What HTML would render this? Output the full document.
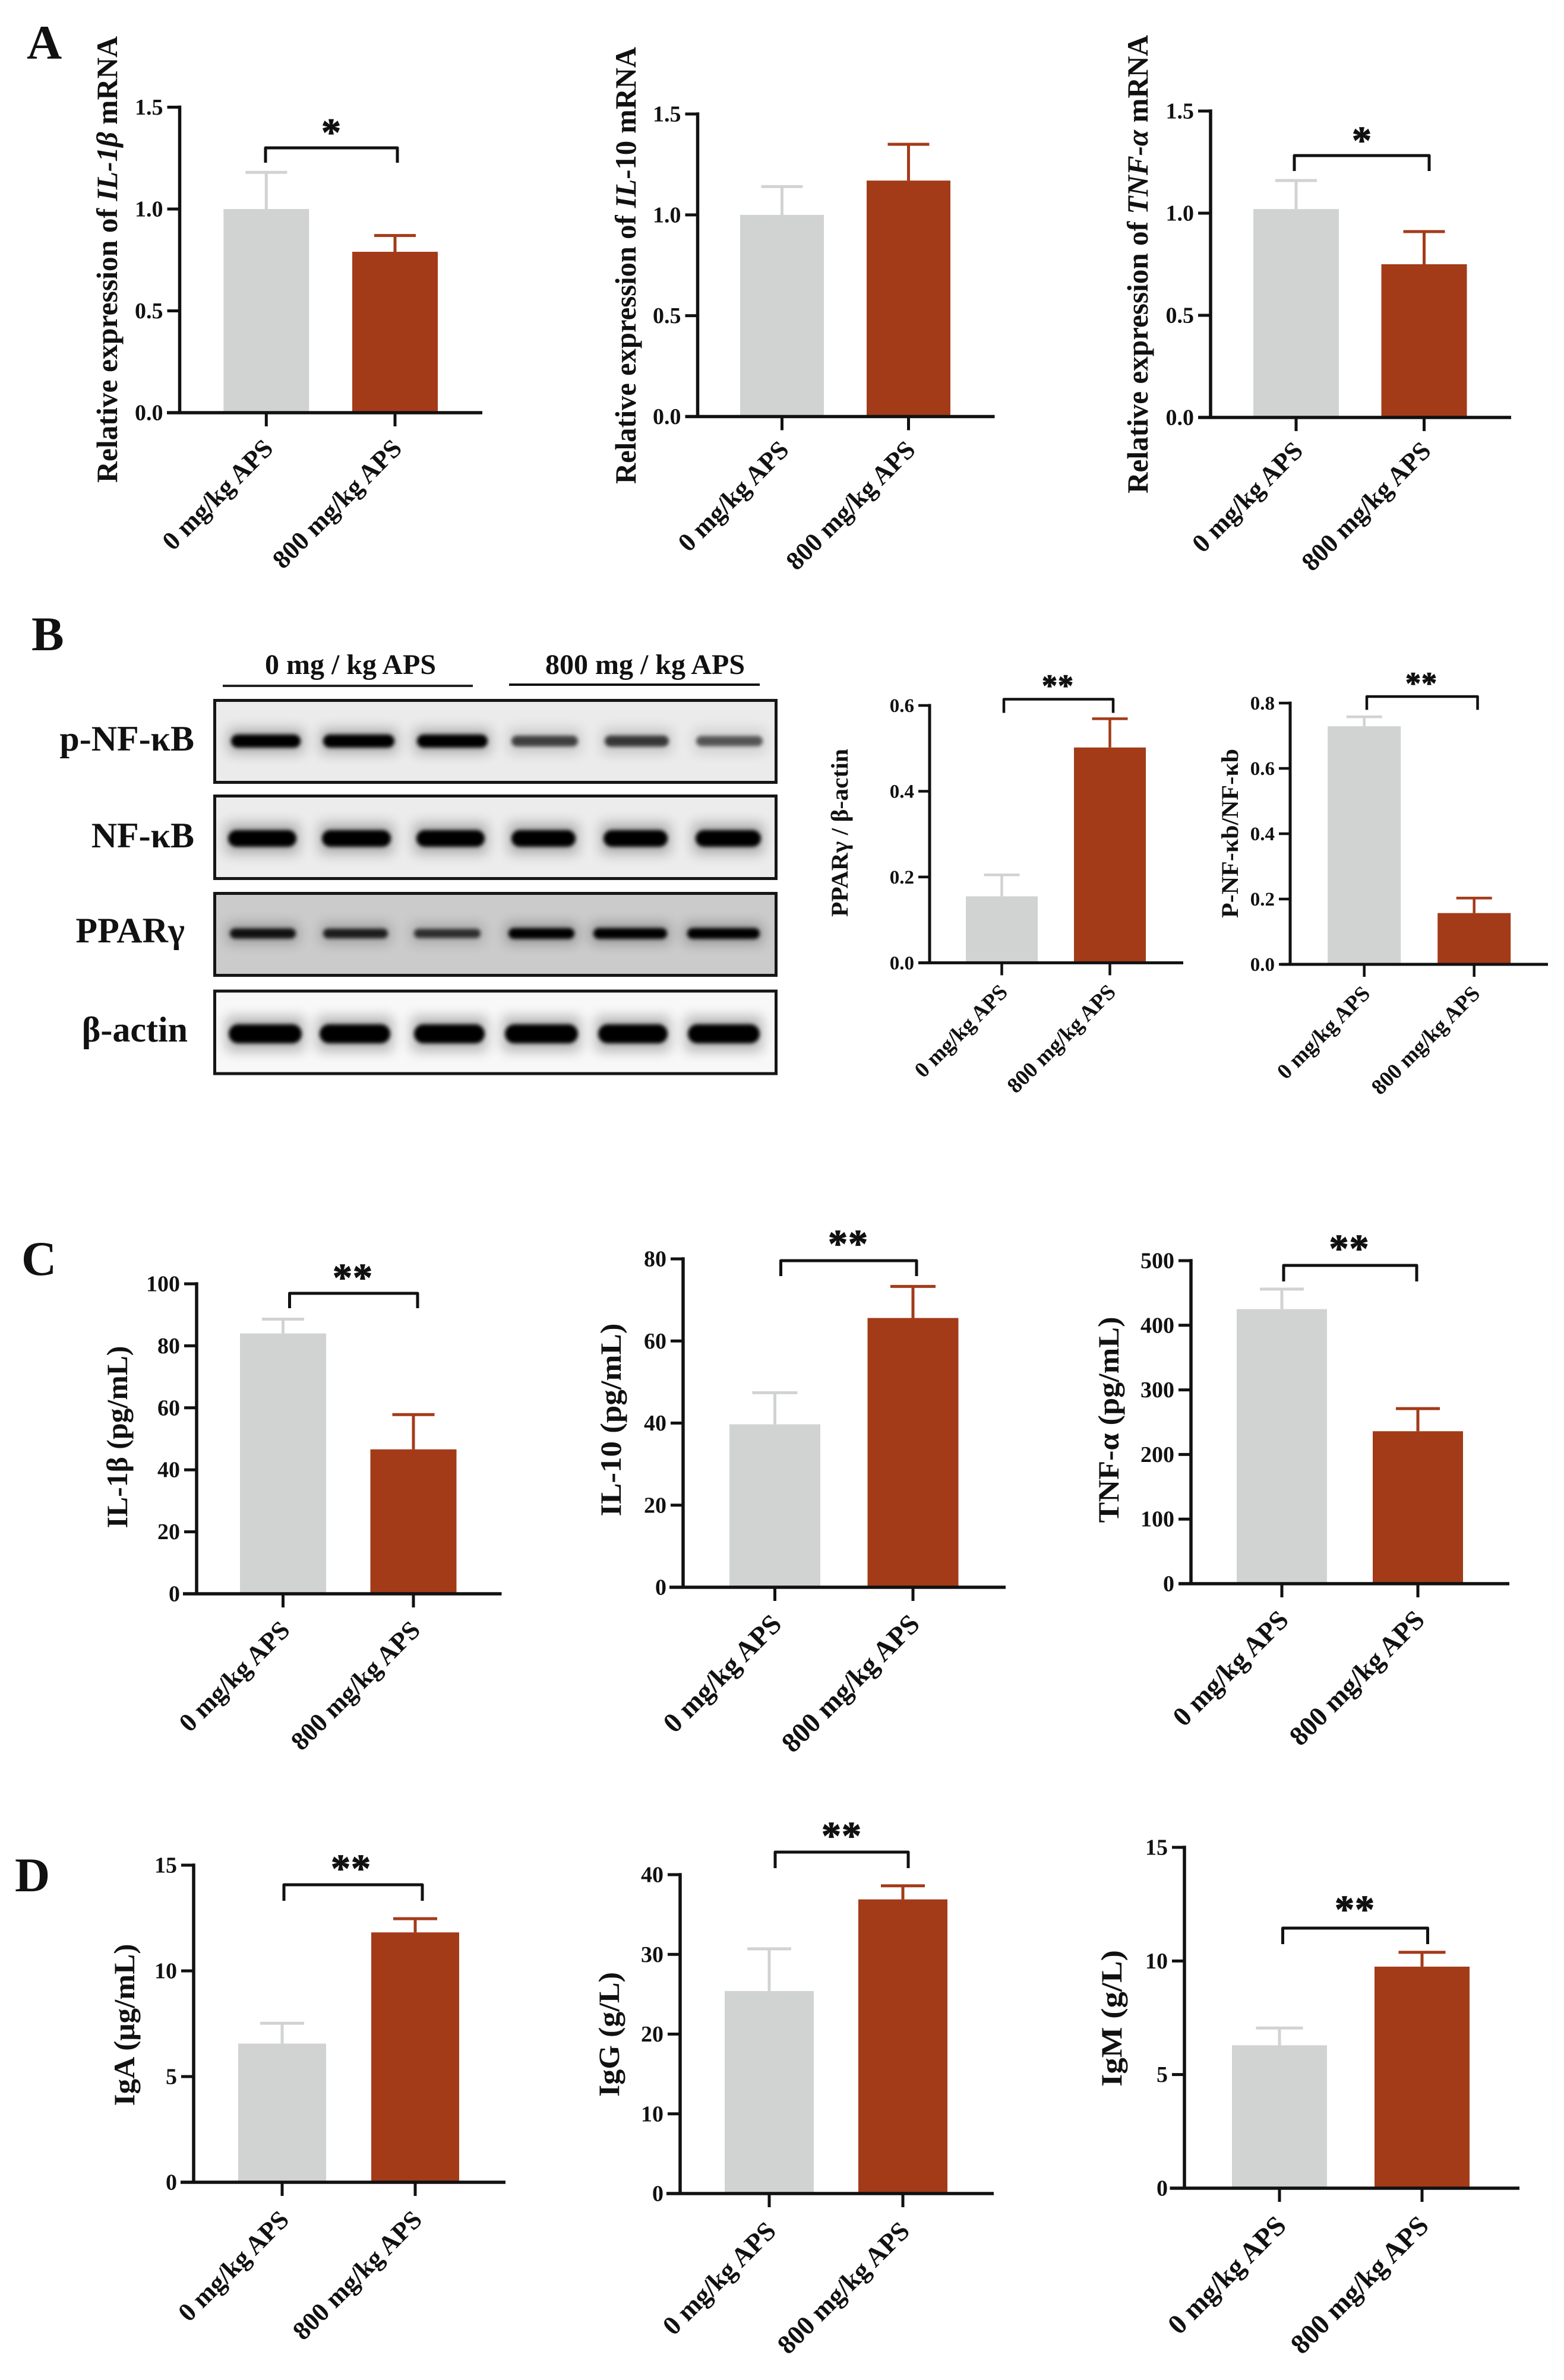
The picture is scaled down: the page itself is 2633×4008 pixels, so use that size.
<!DOCTYPE html>
<html lang="en">
<head>
<meta charset="utf-8">
<title>APS bar charts and western blots</title>
<style>
html,body{margin:0;padding:0;background:#fff;}
svg{display:block;font-family:"Liberation Serif","Noto Serif CJK SC",serif;font-weight:bold;}
</style>
</head>
<body>
<svg id="figure" xmlns="http://www.w3.org/2000/svg" width="2633" height="4008" viewBox="0 0 2633 4008">
<defs>
<filter id="blurBand" x="-20%" y="-100%" width="140%" height="300%"><feGaussianBlur stdDeviation="3.2"/></filter>
<filter id="blurHalo" x="-20%" y="-150%" width="140%" height="400%"><feGaussianBlur stdDeviation="11"/></filter>
</defs>
<rect width="2633" height="4008" fill="#fff"/>
<text x="45" y="99" font-size="82" fill="#111">A</text>
<text x="53" y="1095" font-size="82" fill="#111">B</text>
<text x="36" y="2147" font-size="82" fill="#111">C</text>
<text x="25" y="3185" font-size="82" fill="#111">D</text>
<text x="590" y="1135" font-size="48" text-anchor="middle" fill="#111">0 mg / kg APS</text>
<text x="1086" y="1135" font-size="48" text-anchor="middle" fill="#111">800 mg / kg APS</text>
<line x1="375" x2="796" y1="1155" y2="1155" stroke="#222" stroke-width="4"/>
<line x1="857" x2="1279" y1="1153" y2="1153" stroke="#111" stroke-width="4"/>
<text x="327" y="1264" font-size="60" text-anchor="end" fill="#111">p-NF-κB</text>
<text x="327" y="1427" font-size="60" text-anchor="end" fill="#111">NF-κB</text>
<text x="311" y="1587" font-size="60" text-anchor="end" fill="#111">PPARγ</text>
<text x="316" y="1754" font-size="60" text-anchor="end" fill="#111">β-actin</text>
<g id="blots"></g>
<g id="charts"></g>
</svg>
<script>
// ---- chart data ----
const categories = ['0 mg/kg APS', '800 mg/kg APS'];

const ticksMrna = ['0.0', '0.5', '1.0', '1.5'];
const il1bMrnaMeans = [1.0, 0.79];
const il1bMrnaErrors = [0.18, 0.08];
const il10MrnaMeans = [1.0, 1.17];
const il10MrnaErrors = [0.14, 0.18];
const tnfMrnaMeans = [1.02, 0.75];
const tnfMrnaErrors = [0.14, 0.16];

const ticksPpar = ['0.0', '0.2', '0.4', '0.6'];
const pparMeans = [0.155, 0.502];
const pparErrors = [0.05, 0.067];
const ticksPnf = ['0.0', '0.2', '0.4', '0.6', '0.8'];
const pnfMeans = [0.729, 0.157];
const pnfErrors = [0.029, 0.046];

const ticksIl1b = ['0', '20', '40', '60', '80', '100'];
const il1bMeans = [84, 46.6];
const il1bErrors = [4.6, 11.2];
const ticksIl10 = ['0', '20', '40', '60', '80'];
const il10Means = [39.7, 65.6];
const il10Errors = [7.7, 7.7];
const ticksTnf = ['0', '100', '200', '300', '400', '500'];
const tnfMeans = [425, 236];
const tnfErrors = [31, 35];

const ticksIga = ['0', '5', '10', '15'];
const igaMeans = [6.56, 11.82];
const igaErrors = [0.96, 0.65];
const ticksIgg = ['0', '10', '20', '30', '40'];
const iggMeans = [25.4, 36.9];
const iggErrors = [5.3, 1.7];
const ticksIgm = ['0', '5', '10', '15'];
const igmMeans = [6.29, 9.75];
const igmErrors = [0.76, 0.63];

// band densities for the blots (relative darkness per lane)
const pNfkbDensity = [1, 1, 1, 0.55, 0.6, 0.42];
const nfkbDensity = [1, 1, 1, 1, 1, 1];
const pparDensity = [0.85, 0.75, 0.62, 1, 1, 1];
const actinDensity = [1, 1, 1, 1, 1, 1];

// ---- layout (pixels) ----
const BIG = {tick: 38, cat: 44, title: 50, star: 66, pitch: 1, axis: 5.5, tickLen: 21, err: 5};
const SMALL = {tick: 33, cat: 37, title: 40, star: 52, pitch: 1, axis: 5, tickLen: 19, err: 4.5};

const panels = [
  {id:'il1b-mrna', means:il1bMrnaMeans, errors:il1bMrnaErrors, ticks:ticksMrna, s:BIG, axisX:302.5, y0:695, yTop:180.5, xStart:281, xEnd:812, first:448.3, step:216.7, barW:144, capW:70, catDy:4,
   title:[['Relative expression of ',0],['IL-1β',1],[' mRNA',0]], titleX:197, titleY:437, titleLen:752, stars:'*', starX:558, starY:213.6, br:[447,669,249,274]},
  {id:'il10-mrna', means:il10MrnaMeans, errors:il10MrnaErrors, ticks:ticksMrna, s:BIG, axisX:1174.5, y0:701.5, yTop:192, xStart:1154, xEnd:1674.5, first:1316.5, step:213, barW:141, capW:70, catDy:0,
   title:[['Relative expression of ',0],['IL',1],['-10 mRNA',0]], titleX:1070, titleY:447, titleLen:736},
  {id:'tnf-mrna', means:tnfMrnaMeans, errors:tnfMrnaErrors, ticks:ticksMrna, s:BIG, axisX:2038, y0:703, yTop:187, xStart:2017, xEnd:2544, first:2182, step:215.5, barW:144, capW:70, catDy:0,
   title:[['Relative expression of ',0],['TNF-α',1],[' mRNA',0]], titleX:1932, titleY:445, titleLen:772, stars:'*', starX:2293, starY:227, br:[2179,2406,262,288]},

  {id:'ppar', means:pparMeans, errors:pparErrors, ticks:ticksPpar, s:SMALL, axisX:1565, y0:1621.4, yTop:1188, xStart:1546, xEnd:1992, first:1686.5, step:182, barW:121, capW:60, catDy:2,
   title:[['PPARγ / β-actin',0]], titleX:1427, titleY:1402.5, titleLen:283, stars:'**', starX:1781, starY:1147, br:[1690,1874,1177.5,1200.5]},
  {id:'p-nf-kb', means:pnfMeans, errors:pnfErrors, ticks:ticksPnf, s:SMALL, axisX:2172, y0:1624, yTop:1184, xStart:2156, xEnd:2606, first:2296.7, step:185, barW:123, capW:60, catDy:2,
   title:[['P-NF-κb/NF-κb',0]], titleX:2084, titleY:1403.5, titleLen:285, stars:'**', starX:2393, starY:1143, br:[2301,2487.5,1173,1195.4]},

  {id:'il1b', means:il1bMeans, errors:il1bErrors, ticks:ticksIl1b, s:BIG, axisX:331, y0:2684, yTop:2162, xStart:308, xEnd:844.5, first:476.5, step:219.5, barW:145, capW:71, catDy:5,
   title:[['IL-1β (pg/mL)',0]], titleX:214, titleY:2420, titleLen:307, stars:'**', starX:594, starY:2142, br:[487.5,703,2178,2203]},
  {id:'il10', means:il10Means, errors:il10Errors, ticks:ticksIl10, s:BIG, axisX:1150, y0:2673, yTop:2120, xStart:1127, xEnd:1693, first:1304.5, step:232.5, barW:153, capW:76, catDy:6, catSize:47,
   title:[['IL-10 (pg/mL)',0]], titleX:1045, titleY:2391, titleLen:325, stars:'**', starX:1428, starY:2085, br:[1314.5,1543,2123,2149]},
  {id:'tnf', means:tnfMeans, errors:tnfErrors, ticks:ticksTnf, s:BIG, axisX:2005, y0:2667, yTop:2123, xStart:1984, xEnd:2541, first:2158, step:229, barW:152, capW:74, catDy:5, catSize:46,
   title:[['TNF-α (pg/mL)',0]], titleX:1883, titleY:2391, titleLen:347, stars:'**', starX:2271.5, starY:2093, br:[2161,2385,2131,2158]},

  {id:'iga', means:igaMeans, errors:igaErrors, ticks:ticksIga, s:BIG, axisX:326, y0:3675, yTop:3141, xStart:304, xEnd:851, first:475, step:224, barW:148, capW:74, catDy:7,
   title:[['IgA (μg/mL)',0]], titleX:226, titleY:3410, titleLen:273, stars:'**', starX:591, starY:3137, br:[478,711,3174,3201]},
  {id:'igg', means:iggMeans, errors:iggErrors, ticks:ticksIgg, s:BIG, axisX:1145, y0:3694, yTop:3157, xStart:1122, xEnd:1673, first:1295, step:225, barW:150, capW:74, catDy:7, catSize:45,
   title:[['IgG (g/L)',0]], titleX:1042, titleY:3426, titleLen:210, stars:'**', starX:1417, starY:3082, br:[1305,1529,3119,3146]},
  {id:'igm', means:igmMeans, errors:igmErrors, ticks:ticksIgm, s:BIG, axisX:1994, y0:3685, yTop:3111, xStart:1969.5, xEnd:2558, first:2154, step:240, barW:160, capW:79, catDy:7, catSize:47,
   title:[['IgM (g/L)',0]], titleX:1888, titleY:3399, titleLen:230, stars:'**', starX:2281, starY:3206, br:[2159.5,2403.5,3247,3274]}
];

const blots = [
  {id:'p-nf-kb', density:pNfkbDensity, y:1179.5, h:138, bg:'#ebebeb', bandY:1248, bandH:22, lanes:[[385,510],[540,668],[698,825],[857,977],[1014,1130],[1168,1288]]},
  {id:'nf-kb', density:nfkbDensity, y:1340.5, h:139, bg:'#ececec', bandY:1412, bandH:28, lanes:[[380,503],[538,662],[697,820],[857,973],[1012,1128],[1167,1285]]},
  {id:'ppar-gamma', density:pparDensity, y:1504.5, h:138, bg:'#cbcbcb', bandY:1572, bandH:18, lanes:[[383,502],[540,657],[693,813],[852,971],[995,1127],[1153,1283]]},
  {id:'beta-actin', density:actinDensity, y:1669, h:139, bg:'#f8f8f8', bandY:1741, bandH:32, lanes:[[381,512],[534,661],[693,820],[846,977],[1003,1128],[1154,1283]]}
];

const NS = 'http://www.w3.org/2000/svg';
const GREY = '#d1d3d2';
const RED = '#a33b19';
const INK = '#111';
const colors = [GREY, RED];

function mk(tag, attrs, parent) {
  const el = document.createElementNS(NS, tag);
  for (const k in attrs) el.setAttribute(k, attrs[k]);
  parent.appendChild(el);
  return el;
}

function drawChart(p) {
  const root = document.getElementById('charts');
  const g = mk('g', {}, root);
  
  

  const yMax = parseFloat(p.ticks[p.ticks.length - 1]);
  const yScale = v => p.y0 - (v / yMax) * (p.y0 - p.yTop);
  const xScale = i => p.first + i * p.step;
  const s = p.s;
  const catSize = p.catSize || s.cat;

  // bars + error bars
  p.means.forEach((m, i) => {
    const bar = mk('rect', {x: xScale(i) - p.barW / 2, y: yScale(m), width: p.barW, height: p.y0 - yScale(m), fill: colors[i]}, g);
    
    
    const topY = yScale(m + p.errors[i]);
    const stem = mk('line', {x1: xScale(i), x2: xScale(i), y1: yScale(m), y2: topY, stroke: colors[i], 'stroke-width': s.err}, g);
    
    
    const cap = mk('line', {x1: xScale(i) - p.capW / 2, x2: xScale(i) + p.capW / 2, y1: topY, y2: topY, stroke: colors[i], 'stroke-width': s.err}, g);
    
    
  });

  // axes
  const yAxis = mk('line', {x1: p.axisX, x2: p.axisX, y1: p.yTop - s.axis / 2, y2: p.y0, stroke: INK, 'stroke-width': s.axis}, g);
  
  
  const xAxis = mk('line', {x1: p.xStart, x2: p.xEnd, y1: p.y0, y2: p.y0, stroke: INK, 'stroke-width': s.axis}, g);
  
  

  // y ticks
  p.ticks.forEach(t => {
    const ty = yScale(parseFloat(t));
    const tick = mk('line', {x1: p.axisX - s.tickLen, x2: p.axisX, y1: ty, y2: ty, stroke: INK, 'stroke-width': s.err}, g);
    
    
    const lab = mk('text', {x: p.axisX - s.tickLen - 7, y: ty + s.tick * 0.33, 'font-size': s.tick, 'text-anchor': 'end', fill: INK}, g);
    lab.textContent = t;
    
    
  });

  // x ticks + rotated category labels
  categories.forEach((c, i) => {
    const tx = xScale(i);
    const tick = mk('line', {x1: tx, x2: tx, y1: p.y0, y2: p.y0 + s.tickLen + 2, stroke: INK, 'stroke-width': s.err}, g);
    
    
    const ex = tx + s.cat * 0.27 + 2;
    const ey = p.y0 + s.cat * 1.335 + p.catDy;
    const lab = mk('text', {x: ex, y: ey, 'font-size': catSize, 'text-anchor': 'end', fill: INK, transform: 'rotate(-45 ' + ex + ' ' + ey + ')'}, g);
    lab.textContent = c;
    
    
  });

  // y axis title
  const title = mk('text', {x: p.titleX, y: p.titleY, 'font-size': s.title, 'text-anchor': 'middle', fill: INK,
    transform: 'rotate(-90 ' + p.titleX + ' ' + p.titleY + ')', textLength: p.titleLen, lengthAdjust: 'spacingAndGlyphs'}, g);
  
  
  p.title.forEach(part => {
    const sp = mk('tspan', part[1] ? {'font-style': 'italic'} : {}, title);
    sp.setAttribute('xml:space', 'preserve');
    sp.style.whiteSpace = 'pre';
    sp.textContent = part[0];
  });

  // significance bracket
  if (p.br) {
    const b = p.br;
    const path = mk('path', {d: 'M' + b[0] + ' ' + b[3] + 'V' + b[2] + 'H' + b[1] + 'V' + b[3], fill: 'none', stroke: INK, 'stroke-width': s.err, 'stroke-linejoin': 'round'}, g);
    
    
    const star = mk('text', {x: p.starX, y: p.starY + s.star * 0.47, 'font-size': s.star, 'text-anchor': 'middle', fill: INK, stroke: INK, 'stroke-width': 1.2, 'letter-spacing': s.pitch}, g);
    star.textContent = p.stars;
    
    
  }
}

function drawBlot(b) {
  const root = document.getElementById('blots');
  const g = mk('g', {}, root);
  
  
  const bg = mk('rect', {x: 361.5, y: b.y, width: 945, height: b.h, fill: b.bg}, g);
  
  
  b.density.forEach((d, i) => {
    const l = b.lanes[i];
    const halo = mk('rect', {x: l[0], y: b.bandY - b.bandH * 0.9, width: l[1] - l[0], height: b.bandH * 1.8, fill: '#000', opacity: 0.28 * d, filter: 'url(#blurHalo)'}, g);
    
    
    const bh = b.bandH * (0.6 + 0.4 * d);
    const band = mk('rect', {x: l[0] + 4, y: b.bandY - bh / 2, width: l[1] - l[0] - 8, height: bh, rx: bh / 2, fill: '#000', opacity: Math.min(1, 0.3 + 0.7 * d), filter: 'url(#blurBand)'}, g);
    
    
  });
  const frame = mk('rect', {x: 361.5, y: b.y, width: 945, height: b.h, fill: 'none', stroke: '#161616', 'stroke-width': 5}, g);
  
  
}

blots.forEach(drawBlot);
panels.forEach(drawChart);
</script>
</body>
</html>
